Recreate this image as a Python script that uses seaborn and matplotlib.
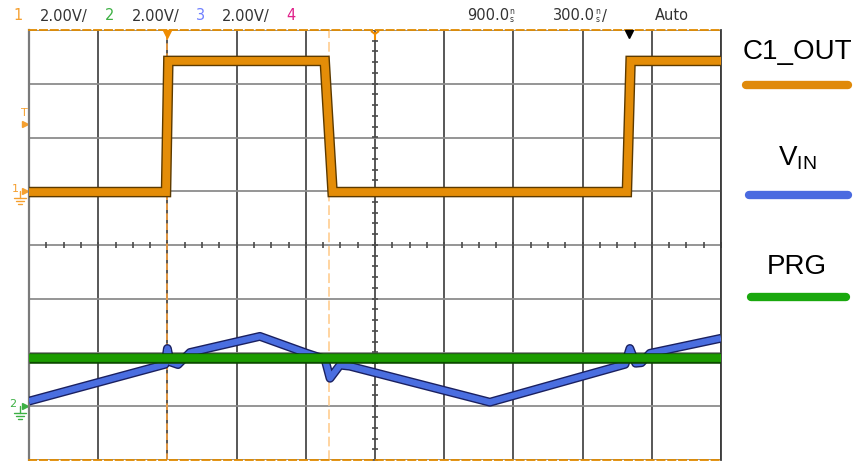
import matplotlib
matplotlib.use("Agg")
import matplotlib.pyplot as plt
import matplotlib.patheffects as pe
from matplotlib.lines import Line2D
import numpy as np
import pandas as pd
import seaborn as sns

W, H = 855, 461

# scope settings: 300 ns/div, trigger at t=0, delay 900 ns -> screen spans -600..2400 ns
t_div = 300
t_left, t_right = -600, 2400
t_delay = 900
v_div = 2.0          # all channels at 2.00 V/div
ch1_offset = 1.0     # ground marker position, divisions from centre
ch23_offset = -3.0
trig_level = 2.5     # V on ch1

# C1_OUT (channel 1)
c1_t = [-600, -6, 4, 682, 716, 1992, 2008, 2400]
c1_v = [-0.03, -0.03, 4.85, 4.85, -0.03, -0.03, 4.85, 4.85]

# VIN (channel 3)
vin_t = [-600, -10, 0, 12, 46, 98, 401, 605, 683, 705, 748, 791, 1398,
         1984, 2005, 2030, 2055, 2092, 2400]
vin_v = [0.19, 1.56, 2.15, 1.65, 1.55, 2.0, 2.6, 1.97, 1.75, 1.04, 1.53, 1.49, 0.15,
         1.56, 2.15, 1.60, 1.62, 1.97, 2.53]

# PRG (channel 2)
prg_t = [-600, 2400]
prg_v = [1.78, 1.78]

cursor_t = [0, 700]
marker_t = 2000

header_colors = ['#f5a030', '#3cb043', '#7080ff', '#e0208a']

sns.set_theme(style="white")
plt.rcParams['font.family'] = ['DejaVu Sans']

fig = plt.figure(figsize=(W / 100, H / 100), dpi=100)
fig.patch.set_facecolor('white')
ax = fig.add_axes([29 / W, 1 / H, 692 / W, 430 / H])
ax.set_xlim(t_left, t_right)
ax.set_ylim(-4, 4)

# graticule
ax.set_xticks(np.arange(t_left, t_right + 1, t_div))
ax.set_yticks(np.arange(-4, 5, 1))
ax.tick_params(length=0, labelbottom=False, labelleft=False)
ax.grid(axis='x', color='#4a4a4a', lw=1.3)
ax.grid(axis='y', color='#8c8c8c', lw=1.3)
ax.set_axisbelow(True)
for side in ['top', 'bottom']:
    ax.spines[side].set_color('#e08a00')
    ax.spines[side].set_linestyle((0, (4, 2)))
    ax.spines[side].set_linewidth(1.3)
ax.spines['left'].set_color('#7a7a7a')
ax.spines['left'].set_linewidth(1.6)
ax.spines['right'].set_color('#3a3a3a')
ax.spines['right'].set_linewidth(1.3)

# small ticks on the centre cross
sub_t = np.arange(t_left, t_right + 1, t_div / 4)
ax.plot(sub_t, np.zeros_like(sub_t), ls='none', marker='|', ms=5, mew=1.2, color='#4a4a4a', zorder=1)
sub_y = np.arange(-4, 4.01, 0.2)
ax.plot(np.full_like(sub_y, t_delay), sub_y, ls='none', marker='_', ms=5, mew=1.2, color='#4a4a4a', zorder=1)

# cursors
ax.axvline(cursor_t[0], color='#f5a040', ls=(0, (4, 2)), lw=1.2, zorder=2)
ax.axvline(cursor_t[1], color='#ffd4a0', ls=(0, (5, 2)), lw=1.4, zorder=2)


def trace(t, v, offset, color, edge, lw, z, join):
    df = pd.DataFrame({"t": t, "y": np.array(v) / v_div + offset})
    sns.lineplot(data=df, x="t", y="y", ax=ax, color=color, lw=lw, estimator=None,
                 sort=False, zorder=z, solid_joinstyle=join, solid_capstyle='butt',
                 path_effects=[pe.Stroke(linewidth=lw + 2.0, foreground=edge), pe.Normal()])


trace(c1_t, c1_v, ch1_offset, '#e48d08', '#5c3a00', 5.6, 5, 'miter')
trace(vin_t, vin_v, ch23_offset, '#4a6ee0', '#1a2060', 4.4, 3, 'round')
trace(prg_t, prg_v, ch23_offset, '#1c9c00', '#0c4a00', 5.6, 4, 'miter')
ax.set_xlabel('')
ax.set_ylabel('')

# top markers
ax.plot(cursor_t[0], 3.93, marker='v', ms=6, color='#f08c00', clip_on=False, zorder=6)
ax.plot(t_delay, 3.93, marker='1', ms=8, mew=1.5, color='#f08c00', clip_on=False, zorder=6)
ax.plot(marker_t, 3.93, marker='v', ms=6, color='black', clip_on=False, zorder=6)

# left markers
x_mk = t_left - 16
ax.plot(x_mk, ch1_offset + trig_level / v_div, marker='>', ms=5, color='#f5a030', clip_on=False)
ax.plot(x_mk, ch1_offset, marker='>', ms=5, color='#f5a030', clip_on=False)
ax.plot(x_mk, ch23_offset, marker='>', ms=5, color='#3cb043', clip_on=False)


def px(x, y):
    return x / W, 1 - y / H


def ground(x, y, color):
    for (x0, y0, x1, y1) in [(x, y - 7, x, y), (x - 6, y, x + 6, y), (x - 4, y + 3, x + 4, y + 3),
                             (x - 2, y + 6, x + 2, y + 6)]:
        a, b = px(x0, y0)
        c, d = px(x1, y1)
        fig.add_artist(Line2D([a, c], [b, d], color=color, lw=1))


ground(20, 198, '#f5a030')
ground(20, 413, '#3cb043')
fig.text(*px(15, 189), '1', color='#f5a030', fontsize=8, ha='center', va='center')
fig.text(*px(13, 404), '2', color='#3cb043', fontsize=8, ha='center', va='center')
fig.text(*px(24, 113), 'T', color='#f5a030', fontsize=8, ha='center', va='center')

# header
hy = 16
hx = [18, 110, 200, 291]
for i, (x, c) in enumerate(zip(hx, header_colors)):
    fig.text(*px(x, hy), str(i + 1), color=c, fontsize=10.5, ha='center', va='center')
    if i < 3:
        fig.text(*px(x + 22, hy), '2.00V/', color='#333333', fontsize=10.5, ha='left', va='center')
fig.text(*px(467, hy), '900.0', color='#333333', fontsize=10.5, ha='left', va='center')
fig.text(*px(512, 12), 'n', color='#333333', fontsize=5.5, ha='center', va='center')
fig.text(*px(512, 20), 's', color='#333333', fontsize=5.5, ha='center', va='center')
fig.text(*px(553, hy), '300.0', color='#333333', fontsize=10.5, ha='left', va='center')
fig.text(*px(598, 12), 'n', color='#333333', fontsize=5.5, ha='center', va='center')
fig.text(*px(598, 20), 's', color='#333333', fontsize=5.5, ha='center', va='center')
fig.text(*px(602, hy), '/', color='#333333', fontsize=10.5, ha='left', va='center')
fig.text(*px(655, hy), 'Auto', color='#333333', fontsize=10.5, ha='left', va='center')

# right-hand legend
legend = [('C1_OUT', '#e08a0a', 52, 85, 746, 848),
          (r'V$_\mathregular{IN}$', '#4a6ae0', 158, 195, 749, 848),
          ('PRG', '#1aa80e', 267, 297, 751, 846)]
for label, c, ty, ly, x0, x1 in legend:
    fig.text(*px(797, ty), label, color='black', fontsize=20, ha='center', va='center',
             family='Liberation Sans')
    a, b = px(x0, ly)
    c2, _ = px(x1, ly)
    fig.add_artist(Line2D([a, c2], [b, b], color=c, lw=6, solid_capstyle='round'))

fig.savefig('out.png', dpi=100, facecolor='white')
